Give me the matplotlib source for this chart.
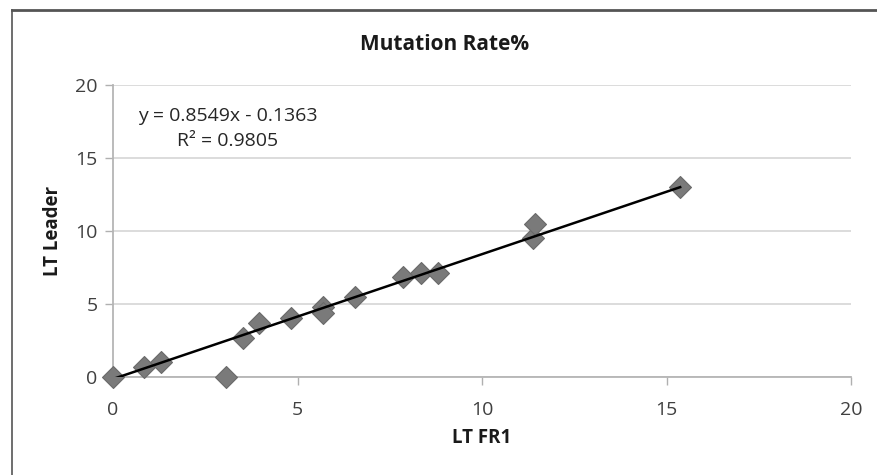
import numpy as np
import matplotlib
matplotlib.use("Agg")
import matplotlib.pyplot as plt
from matplotlib.lines import Line2D

plt.rcParams['font.family'] = ['Open Sans', 'DejaVu Sans']

# LT FR1 vs LT Leader mutation rates
lt_fr1 = [0.0, 0.85, 1.3, 3.06, 3.52, 3.96, 4.82, 5.69, 5.69, 6.56, 7.86, 8.35, 8.81, 11.38, 11.44, 15.37]
lt_leader = [0.0, 0.7, 1.0, 0.0, 2.67, 3.7, 4.04, 4.8, 4.4, 5.48, 6.85, 7.12, 7.1, 9.55, 10.5, 13.0]

slope = 0.8549
intercept = -0.1363
eq_text = "y = 0.8549x - 0.1363"
r2_text = "R² = 0.9805"

xticks = [0, 5, 10, 15, 20]
yticks = [0, 5, 10, 15, 20]

fig = plt.figure(figsize=(8.78, 4.75), dpi=100)
ax = fig.add_axes([113/878, 1-377/475, (851-113)/878, (377-85)/475])

ax.scatter(lt_fr1, lt_leader, marker="D", s=125, color="#7a7a7a",
           edgecolors="#6a6a6a", linewidths=0.8, zorder=3, clip_on=False)

xs = np.array([min(lt_fr1), max(lt_fr1)])
ax.plot(xs, slope*xs + intercept, color="black", lw=1.8, zorder=4)

ax.set_xlim(0, 20)
ax.set_ylim(0, 20)
ax.set_xticks(xticks)
ax.set_yticks(yticks)
ax.tick_params(axis="both", colors="#b0b0b0", labelcolor="#404040",
               labelsize=14, length=6, width=1, direction="out")
ax.tick_params(axis="x", pad=11)
ax.tick_params(axis="y", pad=5)
ax.grid(axis="y", color="#d9d9d9", lw=1.3)
ax.set_axisbelow(True)
for s in ["top", "right"]:
    ax.spines[s].set_visible(False)
for s in ["left", "bottom"]:
    ax.spines[s].set_color("#b5b5b5")
    ax.spines[s].set_linewidth(1.3)

fig.text(445/878, 1-44/475, "Mutation Rate%", ha="center", va="center",
         fontsize=15, fontweight="bold", color="#1a1a1a")
fig.text(482/878, 1-438/475, "LT FR1", ha="center", va="center",
         fontsize=13.5, fontweight="bold", color="#1a1a1a")
fig.text(53/878, 1-231/475, "LT Leader", ha="center", va="center", rotation=90,
         fontsize=13.5, fontweight="bold", color="#1a1a1a")
fig.text(228/878, 1-116/475, eq_text, ha="center", va="center",
         fontsize=14, color="#262626")
fig.text(228/878, 1-141/475, r2_text, ha="center", va="center",
         fontsize=14, color="#262626")

# outer chart frame (top and left edges visible)
fig.add_artist(Line2D([12/878, 1], [1-10/475, 1-10/475], transform=fig.transFigure,
                      color="#555555", lw=2))
fig.add_artist(Line2D([12/878, 12/878], [0, 1-10/475], transform=fig.transFigure,
                      color="#555555", lw=1.2))

fig.savefig("out.png", dpi=100)
